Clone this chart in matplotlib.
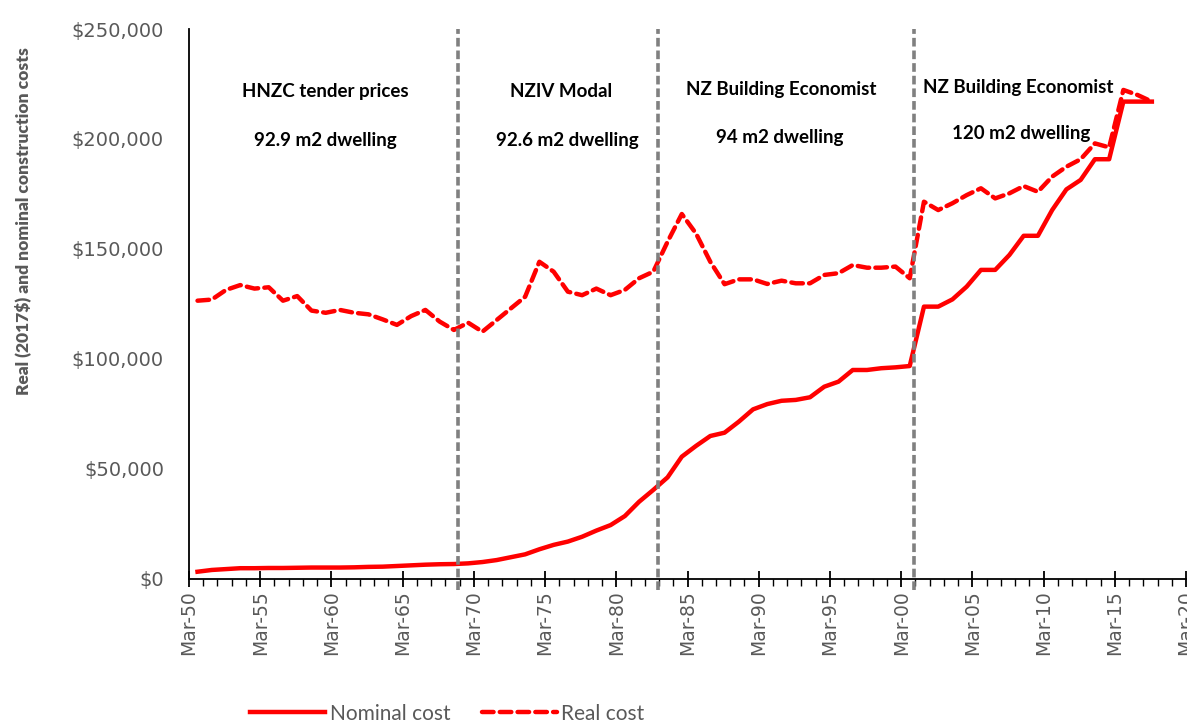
import numpy as np
import matplotlib
matplotlib.use("Agg")
import matplotlib.pyplot as plt
from matplotlib.ticker import FuncFormatter, MultipleLocator

# annual observations, 1950 to 2017 (values in $ thousands)
years = list(range(1950, 2018))
nominal = [3.3, 4.1, 4.5, 4.9, 4.9, 5.0, 5.0, 5.1, 5.2, 5.2,
           5.2, 5.3, 5.5, 5.6, 5.9, 6.2, 6.5, 6.7, 6.8, 7.1,
           7.7, 8.6, 9.9, 11.2, 13.5, 15.5, 17.0, 19.2, 22.0, 24.5,
           28.6, 35.1, 40.5, 46.2, 55.6, 60.5, 65.0, 66.5, 71.5, 77.1,
           79.5, 81.0, 81.4, 82.6, 87.4, 89.7, 95.0, 95.0, 95.8, 96.2,
           96.8, 123.8, 123.8, 127.1, 132.9, 140.5, 140.5, 147.3, 156.0, 156.0,
           167.7, 177.1, 181.4, 190.8, 190.8, 217.0, 217.0, 217.0]
real = [126.5, 127.0, 131.4, 133.6, 132.0, 132.6, 126.5, 128.6, 122.0, 121.0,
        122.3, 121.0, 120.3, 118.0, 115.5, 119.5, 122.3, 117.0, 113.2, 116.5,
        112.4, 117.7, 123.0, 128.3, 144.2, 139.7, 130.6, 129.0, 132.0, 129.0,
        131.4, 136.7, 139.7, 153.3, 165.9, 157.0, 144.2, 134.0, 136.2, 136.2,
        134.1, 135.6, 134.4, 134.4, 138.2, 139.0, 142.7, 141.5, 141.5, 142.0,
        136.7, 171.5, 167.7, 170.8, 174.5, 177.6, 173.0, 175.3, 178.6, 176.0,
        182.9, 187.4, 190.8, 198.0, 196.2, 222.3, 220.0, 217.0]
date_offset = 0.6  # observations fall part-way through each year

# source changes (decimal years)
breaks = [1968.9, 1982.9, 2000.9]
sources = ["HNZC tender prices", "NZIV Modal", "NZ Building Economist", "NZ Building Economist"]
dwellings = ["92.9 m2 dwelling", "92.6 m2 dwelling", "94 m2 dwelling", "120 m2 dwelling"]
src_x = [1959.6, 1976.1, 1991.6, 2008.2]
dwl_x = [1959.6, 1976.6, 1991.5, 2008.4]
src_y = [221.4, 221.4, 222.7, 223.2]
dwl_y = [199.5, 199.5, 200.5, 202.3]

grey = "#595959"

fig = plt.figure()
fig.set_size_inches(11.87, 7.25)
ax = fig.add_axes([0.1592, 0.2014, 0.8400, 0.7586])

x = np.array(years) + date_offset
ax.plot(x, np.array(nominal) * 1000, color="#ff0000", lw=3.2, label="Nominal cost",
        solid_joinstyle="round")
ax.plot(x, np.array(real) * 1000, color="#ff0000", lw=3.2, dashes=(2.6, 1.4),
        label="Real cost", dash_capstyle="round")

for b in breaks:
    ax.axvline(b, color="#808080", lw=2.6, dashes=(2.4, 1.1), ymin=-0.02, clip_on=False)

for i in range(len(sources)):
    ax.text(src_x[i], src_y[i] * 1000, sources[i], ha="center", va="center",
            fontsize=13.5, fontweight="bold", family="Lato")
    ax.text(dwl_x[i], dwl_y[i] * 1000, dwellings[i], ha="center", va="center",
            fontsize=13.5, fontweight="bold", family="Lato")

ax.set_xlim(1950, 2020)
ax.set_ylim(0, 250000)

ax.xaxis.set_major_locator(MultipleLocator(5))
ax.xaxis.set_minor_locator(MultipleLocator(1))
ax.xaxis.set_major_formatter(FuncFormatter(lambda v, p: "Mar-%02d" % (int(round(v)) % 100)))
ax.yaxis.set_major_locator(MultipleLocator(50000))
ax.yaxis.set_major_formatter(FuncFormatter(lambda v, p: "${:,.0f}".format(v)))

ax.tick_params(axis="x", which="major", direction="inout", length=12, width=1.3,
               labelrotation=90, labelsize=13.5, labelcolor=grey, pad=2)
ax.tick_params(axis="x", which="minor", direction="out", length=5, width=1.0)
ax.tick_params(axis="y", length=0, labelsize=14, labelcolor=grey, pad=18)

for axis in ["top", "right"]:
    ax.spines[axis].set_visible(False)
for axis in ["left", "bottom"]:
    ax.spines[axis].set_linewidth(1.3)

ax.set_ylabel("Real (2017$) and nominal construction costs", fontsize=12.5,
              fontweight="heavy", color=grey, family="Lato")
ax.yaxis.set_label_coords(-0.158, 0.65)

ax.legend(loc="center", bbox_to_anchor=(0.259, -0.245), ncol=2, frameon=False,
          labelcolor=grey, handlelength=3.6, handletextpad=0.2,
          columnspacing=1.5, prop={"family": "Lato", "size": 15})

fig.savefig("out.png", dpi=100)
